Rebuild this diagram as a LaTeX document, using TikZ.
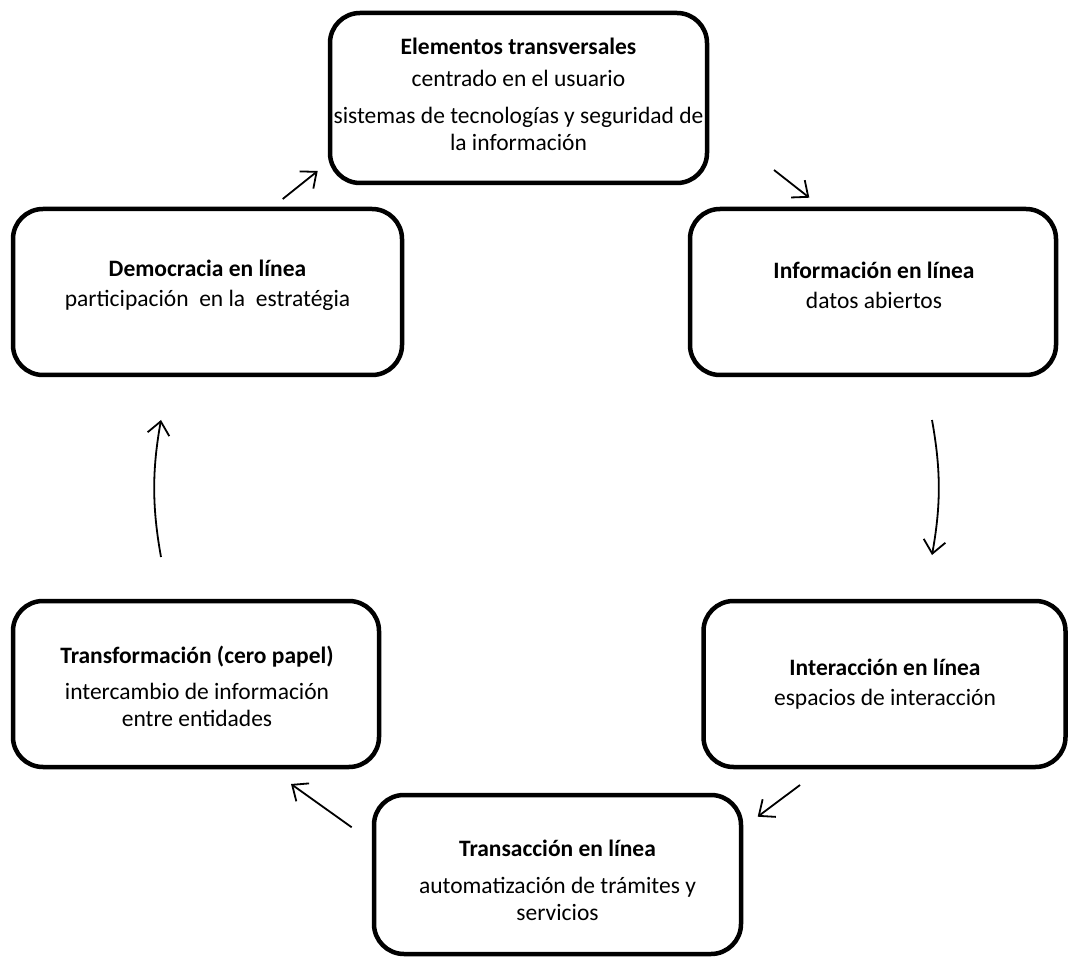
\documentclass[tikz,border=0pt]{standalone}
\usepackage{fontspec}
\setmainfont{Carlito}
\usetikzlibrary{arrows.meta}
\begin{document}
\begin{tikzpicture}[x=1pt,y=-1pt,
  stage/.style={draw, line width=4.5pt, rounded corners=30pt, inner sep=0pt},
  caption/.style={align=center, inner sep=0pt, font=\fontsize{23.5}{27}\selectfont},
  flow/.style={line width=1.8pt, -{Straight Barb[length=13pt,width=22pt]}}]
  \useasboundingbox (0,0) rectangle (1069,957);

  % stage frames
  \node[stage, minimum width=377pt, minimum height=170pt] (trans) at (518.5,98) {};
  \node[stage, minimum width=389pt, minimum height=166pt] (demo) at (207.5,292) {};
  \node[stage, minimum width=366pt, minimum height=166pt] (info) at (873,292) {};
  \node[stage, minimum width=366pt, minimum height=166pt] (cero) at (196,684) {};
  \node[stage, minimum width=362pt, minimum height=166pt] (inter) at (884.5,684) {};
  \node[stage, minimum width=367pt, minimum height=159pt] (tram) at (557.5,874.5) {};

  % stage texts
  \node[caption] (transT) at (518.5,94) {\textbf{Elementos transversales}\\[5pt]
    centrado en el usuario\\[10pt]
    sistemas de tecnologías y seguridad de\\ la información};
  \node[caption] (demoT) at (207.5,285) {\textbf{Democracia en línea}\\[3pt]
    participación~ en la~ estratégia};
  \node[caption] (infoT) at (874,285) {\textbf{Información en línea}\\[3pt]
    datos abiertos};
  \node[caption] (ceroT) at (197,686) {\textbf{Transformación (cero papel)}\\[9pt]
    intercambio de información\\ entre entidades};
  \node[caption] (interT) at (885,684) {\textbf{Interacción en línea}\\[3pt]
    espacios de interacción};
  \node[caption] (tramT) at (557.5,880) {\textbf{Transacción en línea}\\[10pt]
    automatización de trámites y\\ servicios};

  % connector ends
  \coordinate (a1) at (282.7,199);  \coordinate (b1) at (317.7,171);
  \coordinate (a2) at (774,170);    \coordinate (b2) at (809.3,197.7);
  \coordinate (a3) at (932,420);    \coordinate (b3) at (932,555);
  \coordinate (a4) at (800,785);    \coordinate (b4) at (757.7,816.7);
  \coordinate (a5) at (351.7,827.3);\coordinate (b5) at (291,784);
  \coordinate (a6) at (161,557);    \coordinate (b6) at (161,420);

  % cycle arrows
  \draw[flow] (a1) -- (b1);
  \draw[flow] (a2) -- (b2);
  \draw[flow] (a3) .. controls (941,470) and (941,505) .. (b3);
  \draw[flow] (a4) -- (b4);
  \draw[flow] (a5) -- (b5);
  \draw[flow] (a6) .. controls (152,507) and (152,470) .. (b6);
\end{tikzpicture}
\end{document}
